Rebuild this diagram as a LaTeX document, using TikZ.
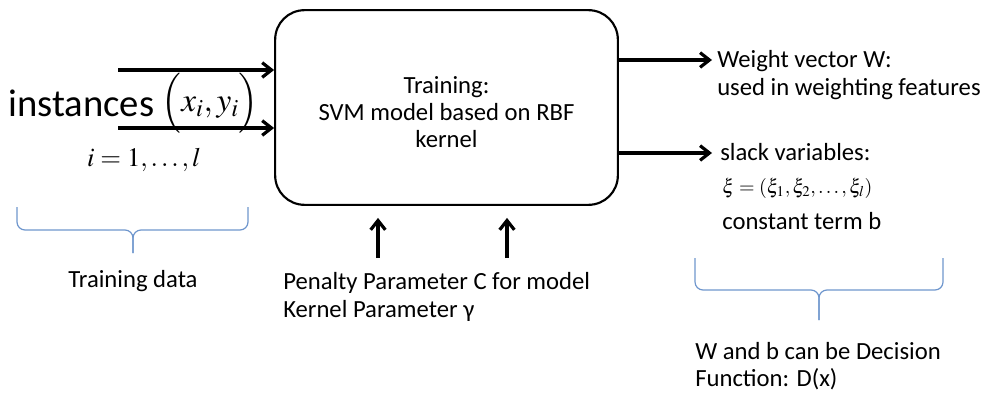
\documentclass[tikz,border=0pt]{standalone}
\usepackage{mathptmx}
\usepackage[no-math]{fontspec}
\setmainfont{Carlito}
\usetikzlibrary{arrows.meta,positioning}
\definecolor{bracecol}{RGB}{110,150,205}

\begin{document}
\begin{tikzpicture}[x=0.75pt,y=-0.75pt,
    txt/.style={font=\fontsize{18.5}{20.5}\selectfont, inner sep=0pt, align=left},
    model/.style={draw, line width=1.6pt, rounded corners=22pt, minimum width=257pt, minimum height=146pt},
    arrow/.style={-{Straight Barb[length=7pt,width=11pt]}, line width=2.4pt},
    brace/.style={draw=bracecol, line width=0.9pt, rounded corners=6pt}
  ]
    \useasboundingbox (0,0) rectangle (987,396);
    \node[model] (svm) at (446.5,107.5) {};
    \node[txt, align=center, font=\fontsize{18.5}{20.5}\selectfont] (svmtext) at (446.5,112) {Training:\\SVM model based on RBF\\kernel};
    % inputs
    \node[inner sep=0pt, anchor=west, font=\fontsize{29}{30}\selectfont] (inst) at (8,103) {instances};
    \node[inner sep=0pt, anchor=west, font=\fontsize{25}{27}\selectfont, right=5pt of inst] (pair) {$\Bigl(x_i,y_i\Bigr)$};
    \node[inner sep=0pt, font=\fontsize{20}{22}\selectfont] (range) at (144,160) {$i=1,\ldots,l$};
    \coordinate (in1) at (118,70);
    \coordinate (in2) at (118,128);
    \draw[arrow] (in1) -- (in1 -| svm.west);
    \draw[arrow] (in2) -- (in2 -| svm.west);
    \draw[brace] (17,207) -- (17,230) -- (133,230) -- (133,253);
    \draw[brace] (248,207) -- (248,230) -- (133,230) -- (133,253);
    \coordinate (ltip) at (133,253);
    \node[txt] (tdata) at (133,281) {Training data};
    % parameters
    \coordinate (p1) at (378,258);
    \coordinate (p2) at (507,258);
    \draw[arrow, shorten >=9pt] (p1) -- (p1 |- svm.south);
    \draw[arrow, shorten >=9pt] (p2) -- (p2 |- svm.south);
    \node[txt, anchor=west] (params) at (283,297) {Penalty Parameter C for model\\Kernel Parameter γ};
    % outputs
    \coordinate (out1) at (712,60);
    \coordinate (out2) at (712,153);
    \draw[arrow] (out1 -| svm.east) -- (out1);
    \draw[arrow] (out2 -| svm.east) -- (out2);
    \node[txt, anchor=west] (weight) at (717,75) {Weight vector W:\\used in weighting features};
    \node[txt, anchor=west] (slack) at (720,152) {slack variables:};
    \node[inner sep=0pt, anchor=west, font=\fontsize{15}{17}\selectfont] (xi) at (722,188) {$\xi=(\xi_1,\xi_2,\ldots,\xi_l)$};
    \node[txt, anchor=west] (const) at (722,221) {constant term b};
    \draw[brace] (695,258) -- (695,290) -- (819,290) -- (819,320);
    \draw[brace] (943,258) -- (943,290) -- (819,290) -- (819,320);
    \node[txt, anchor=west] (decision) at (695,366) {W and b can be Decision\\Function: D(x)};
\end{tikzpicture}
\end{document}
